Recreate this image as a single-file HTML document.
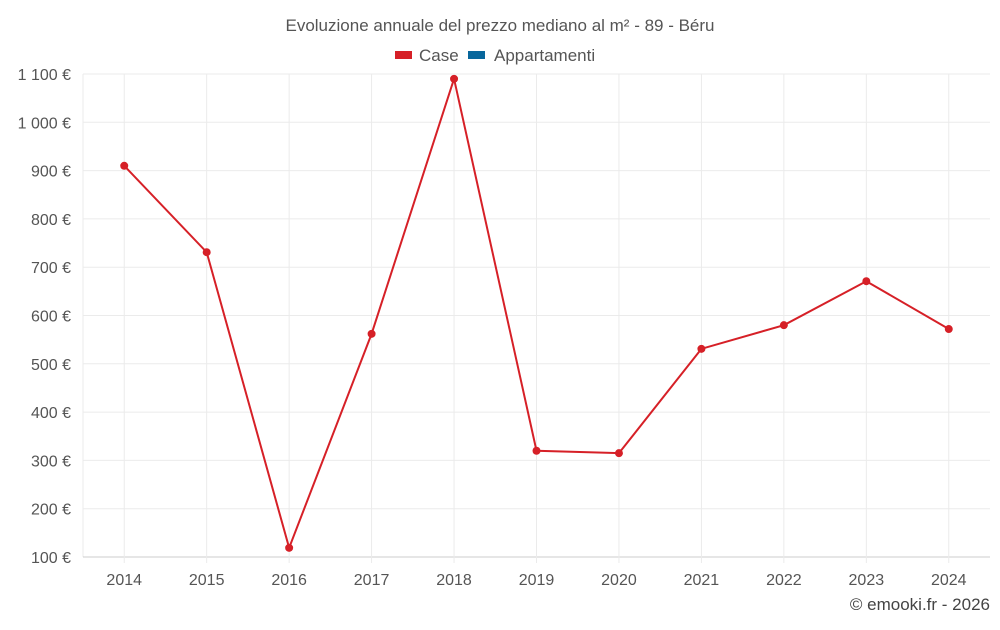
<!DOCTYPE html>
<html><head><meta charset="utf-8"><style>
body{margin:0;background:#fff;font-family:"Liberation Sans",sans-serif;}
svg text{font-family:"Liberation Sans",sans-serif;}
</style></head><body>
<svg id="c" width="1000" height="625">
<text x="500" y="31" text-anchor="middle" font-size="17" fill="#555">Evoluzione annuale del prezzo mediano al m² - 89 - Béru</text>
<g><rect x="395" y="51" width="17" height="8" fill="#d62027"/><text x="419" y="61" font-size="17" fill="#555">Case</text></g>
<g><rect x="468" y="51" width="17" height="8" fill="#08679c"/><text x="494" y="61" font-size="17" fill="#555">Appartamenti</text></g>
<g id="grid"></g><g id="axes"></g><g id="series"></g>
<text x="990" y="610" text-anchor="end" font-size="17" fill="#444">© emooki.fr - 2026</text>
</svg>
<script>
const years=["2014","2015","2016","2017","2018","2019","2020","2021","2022","2023","2024"];
const caseValues=[910,731,119,562,1090,320,315,531,580,671,572];
const yTicks=[100,200,300,400,500,600,700,800,900,1000,1100];
const yTickLabels=["100 €","200 €","300 €","400 €","500 €","600 €","700 €","800 €","900 €","1 000 €","1 100 €"];
const L=83,R=990,T=74,B=557,ymin=100,ymax=1100;
const ns="http://www.w3.org/2000/svg";
const bw=(R-L)/years.length;
const x=i=>L+(i+0.5)*bw;
const y=v=>B-(v-ymin)/(ymax-ymin)*(B-T);
function mk(t,a,p){const e=document.createElementNS(ns,t);for(const k in a)e.setAttribute(k,a[k]);p.appendChild(e);return e;}
const g=document.getElementById('grid'),ax=document.getElementById('axes'),s=document.getElementById('series');
const edge=mk('line',{x1:L,x2:L,y1:T,y2:B,stroke:'#ebebeb'},g);


yTicks.forEach((v,i)=>{
 const l=mk('line',{x1:L,x2:R,y1:y(v),y2:y(v),stroke:i==0?'#ccc':'#ebebeb'},g);
 
 
 const t=mk('text',{x:71,y:y(v)+6,'text-anchor':'end','font-size':16,fill:'#555'},ax);
 t.textContent=yTickLabels[i];
 
 
});
years.forEach((yr,i)=>{
 const l=mk('line',{x1:x(i),x2:x(i),y1:T,y2:B+6,stroke:'#ebebeb'},g);
 
 
 const t=mk('text',{x:x(i),y:585,'text-anchor':'middle','font-size':16,fill:'#555'},ax);
 t.textContent=yr;
 
 
});
const pl=mk('polyline',{points:caseValues.map((v,i)=>x(i)+','+y(v)).join(' '),fill:'none',stroke:'#d62027','stroke-width':2},s);


caseValues.forEach((v,i)=>{
 const c=mk('circle',{cx:x(i),cy:y(v),r:4,fill:'#d62027'},s);
 
 
});
</script>
</body></html>
